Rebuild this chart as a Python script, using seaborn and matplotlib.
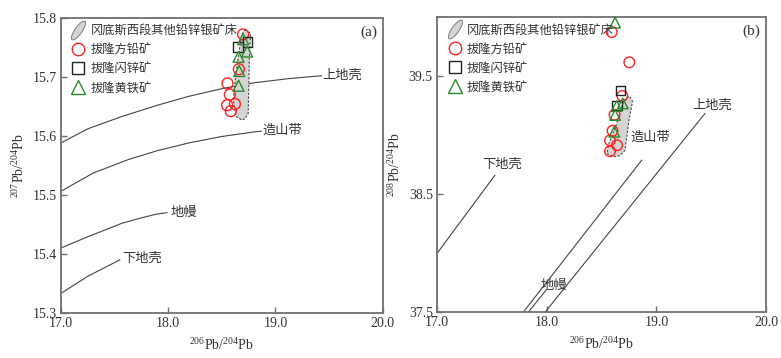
import numpy as np
import seaborn as sns
import matplotlib.pyplot as plt
from matplotlib.lines import Line2D
from matplotlib.path import Path
from matplotlib.transforms import Affine2D

# --- reference curves (a) 207Pb/204Pb vs 206Pb/204Pb
uc_a_x = [17.0, 17.25, 17.57, 17.9, 18.19, 18.5, 18.8, 19.12, 19.43]
uc_a_y = [15.588, 15.612, 15.633, 15.652, 15.667, 15.680, 15.690, 15.697, 15.702]
or_a_x = [17.0, 17.3, 17.63, 17.9, 18.19, 18.5, 18.81, 18.87]
or_a_y = [15.506, 15.537, 15.560, 15.575, 15.588, 15.599, 15.607, 15.608]
ma_a_x = [17.0, 17.25, 17.57, 17.75, 17.88, 17.99]
ma_a_y = [15.410, 15.429, 15.452, 15.461, 15.467, 15.470]
lc_a_x = [17.0, 17.25, 17.55]
lc_a_y = [15.333, 15.362, 15.390]

# --- reference curves (b) 208Pb/204Pb vs 206Pb/204Pb
uc_b_x = [17.985, 19.443]
uc_b_y = [37.5, 39.184]
or_b_x = [17.787, 18.866]
or_b_y = [37.5, 38.788]
ma_b_x = [17.832, 17.999]
ma_b_y = [37.5, 37.692]
lc_b_x = [17.0, 17.529]
lc_b_y = [37.997, 38.661]

# --- samples
gal_a_x = [18.553, 18.575, 18.550, 18.622, 18.584, 18.659, 18.699]
gal_a_y = [15.689, 15.670, 15.652, 15.654, 15.642, 15.713, 15.772]
sph_a_x = [18.652, 18.740]
sph_a_y = [15.751, 15.759]
pyr_a_x = [18.699, 18.736, 18.656, 18.662, 18.656]
pyr_a_y = [15.764, 15.743, 15.734, 15.710, 15.685]

gal_b_x = [18.593, 18.753, 18.689, 18.618, 18.600, 18.577, 18.641, 18.577]
gal_b_y = [39.873, 39.616, 39.332, 39.172, 39.036, 38.955, 38.914, 38.863]
sph_b_x = [18.673, 18.641]
sph_b_y = [39.375, 39.253]
pyr_b_x = [18.623, 18.693, 18.638, 18.623, 18.616]
pyr_b_y = [39.952, 39.268, 39.246, 39.170, 39.028]

# --- field of other Pb-Zn-Ag deposits in western Gangdese
field_a_x = [18.715, 18.768, 18.757, 18.746, 18.715, 18.684, 18.631, 18.606, 18.636, 18.668, 18.684]
field_a_y = [15.780, 15.774, 15.729, 15.638, 15.629, 15.627, 15.633, 15.661, 15.712, 15.751, 15.771]
field_b_x = [18.759, 18.782, 18.750, 18.714, 18.668, 18.607, 18.547, 18.568, 18.632, 18.698, 18.729]
field_b_y = [39.325, 39.284, 39.127, 38.873, 38.826, 38.816, 38.845, 38.930, 39.085, 39.282, 39.320]

curve_names = ['上地壳', '造山带', '地幔', '下地壳']
legend_labels = ['冈底斯西段其他铅锌银矿床', '拔隆方铅矿', '拔隆闪锌矿', '拔隆黄铁矿']

sns.set_theme(style='ticks')
plt.rcParams['font.family'] = ['Liberation Serif', 'Noto Sans CJK SC', 'DejaVu Sans']
plt.rcParams['mathtext.fontset'] = 'custom'
plt.rcParams['mathtext.rm'] = 'Liberation Serif'
plt.rcParams['mathtext.it'] = 'Liberation Serif:italic'

ink = '#333333'
frame = '#707070'

fig = plt.figure(figsize=(7.81, 3.58), dpi=100)
ax1 = fig.add_axes([0.078, 0.126, 0.412, 0.824])
ax2 = fig.add_axes([0.5595, 0.128, 0.4215, 0.8245])

field_marker = Path.unit_circle().transformed(Affine2D().scale(0.32, 1.0).rotate_deg(-35))


def draw_panel(ax, curves, labels_pos, field, gal, sph, pyr, msize):
    for (cx, cy) in curves:
        sns.lineplot(x=cx, y=cy, ax=ax, color='#444444', linewidth=0.8, sort=False)
    ax.fill(field[0], field[1], facecolor='#d4d4d4', edgecolor='#444444',
            linewidth=0.8, linestyle=(0, (2, 1.5)), zorder=2)
    sns.scatterplot(x=gal[0], y=gal[1], ax=ax, marker='o', s=msize, facecolors='none',
                    edgecolor='#ff2020', linewidth=1.0, zorder=3)
    sns.scatterplot(x=sph[0], y=sph[1], ax=ax, marker='s', s=msize * 0.75, facecolors='none',
                    edgecolor='#222222', linewidth=1.0, zorder=3)
    sns.scatterplot(x=pyr[0], y=pyr[1], ax=ax, marker='^', s=msize, facecolors='none',
                    edgecolor='#2a8a2a', linewidth=1.0, zorder=4)
    for name, (tx, ty) in zip(curve_names, labels_pos):
        ax.text(tx, ty, name, fontsize=9.5, color=ink, ha='left', va='center')

    ax.set_xlim(17.0, 20.0)
    ax.set_xticks([17.0, 18.0, 19.0, 20.0])
    ax.set_xticklabels(['17.0', '18.0', '19.0', '20.0'])
    ax.set_xlabel('$^{206}$Pb/$^{204}$Pb', fontsize=10, color=ink, labelpad=5)
    for sp in ax.spines.values():
        sp.set_color(frame)
        sp.set_linewidth(1.3)
    ax.tick_params(direction='in', length=4, width=1, color=frame, labelsize=10,
                   labelcolor=ink, pad=3)

    handles = [
        Line2D([], [], linestyle='none', marker=field_marker, markersize=14,
               markerfacecolor='#d4d4d4', markeredgecolor='#888888', markeredgewidth=0.8),
        Line2D([], [], linestyle='none', marker='o', markersize=9,
               markerfacecolor='none', markeredgecolor='#ff2020', markeredgewidth=1.0),
        Line2D([], [], linestyle='none', marker='s', markersize=8,
               markerfacecolor='none', markeredgecolor='#222222', markeredgewidth=1.0),
        Line2D([], [], linestyle='none', marker='^', markersize=9.5,
               markerfacecolor='none', markeredgecolor='#2a8a2a', markeredgewidth=1.0),
    ]
    leg = ax.legend(handles, legend_labels, loc='upper left', bbox_to_anchor=(0.035, 0.975),
                    frameon=False, fontsize=8.8, borderpad=0, borderaxespad=0,
                    handlelength=1.0, handletextpad=0.5, labelspacing=0.58)
    for t in leg.get_texts():
        t.set_color(ink)


draw_panel(ax1,
           [(uc_a_x, uc_a_y), (or_a_x, or_a_y), (ma_a_x, ma_a_y), (lc_a_x, lc_a_y)],
           [(19.44, 15.702), (18.88, 15.609), (18.02, 15.470), (17.57, 15.392)],
           (field_a_x, field_a_y), (gal_a_x, gal_a_y), (sph_a_x, sph_a_y), (pyr_a_x, pyr_a_y), 62)
ax1.set_ylim(15.3, 15.8)
ax1.set_yticks([15.3, 15.4, 15.5, 15.6, 15.7, 15.8])
ax1.set_yticklabels(['15.3', '15.4', '15.5', '15.6', '15.7', '15.8'])
ax1.set_ylabel('$^{207}$Pb/$^{204}$Pb', fontsize=10, color=ink, labelpad=4)
ax1.text(0.985, 0.952, '(a)', transform=ax1.transAxes, ha='right', va='center',
         fontsize=11, color=ink)

draw_panel(ax2,
           [(uc_b_x, uc_b_y), (or_b_x, or_b_y), (ma_b_x, ma_b_y), (lc_b_x, lc_b_y)],
           [(19.33, 39.25), (18.76, 38.98), (17.94, 37.72), (17.41, 38.75)],
           (field_b_x, field_b_y), (gal_b_x, gal_b_y), (sph_b_x, sph_b_y), (pyr_b_x, pyr_b_y), 58)
ax2.set_ylim(37.5, 40.0)
ax2.set_yticks([37.5, 38.5, 39.5])
ax2.set_yticklabels(['37.5', '38.5', '39.5'])
ax2.set_ylabel('$^{208}$Pb/$^{204}$Pb', fontsize=10, color=ink, labelpad=4)
ax2.text(0.982, 0.952, '(b)', transform=ax2.transAxes, ha='right', va='center',
         fontsize=11, color=ink)

fig.savefig('out.png', dpi=100)
